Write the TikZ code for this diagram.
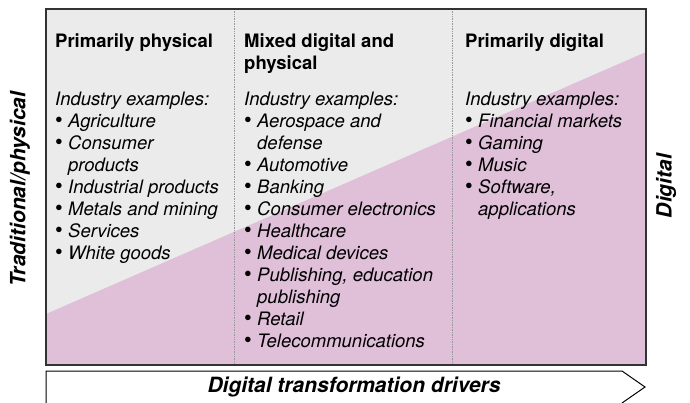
\documentclass[tikz,border=0pt]{standalone}
\usepackage{fontspec}
\setmainfont{TeX Gyre Heros}
\definecolor{physgray}{HTML}{EBEBEB}
\definecolor{digipink}{HTML}{E0BFD8}
\definecolor{framegray}{HTML}{333333}
\definecolor{dividergray}{HTML}{999999}

\begin{document}
\begin{tikzpicture}[x=1pt, y=-1pt,
  head/.style={anchor=base west, inner sep=0pt, font=\fontsize{18.5}{22}\selectfont\bfseries},
  example/.style={anchor=base west, inner sep=0pt, font=\fontsize{18.5}{22}\selectfont\itshape},
  axislabel/.style={inner sep=0pt, font=\fontsize{21}{25}\selectfont\bfseries\itshape}]

\newcommand{\boxleft}{46}
\newcommand{\boxright}{646}
\newcommand{\boxtop}{9}
\newcommand{\boxbottom}{365}
\newcommand{\divone}{234.5}
\newcommand{\divtwo}{452}
\newcommand{\physx}{55}
\newcommand{\mixx}{244}
\newcommand{\digix}{465}
\newcommand{\headtop}{47}
\newcommand{\listtop}{105}
\newcommand{\linestep}{22}
\newcommand{\bul}{\makebox[13pt][l]{\upshape\fontsize{22}{22}\selectfont\textbullet}}
\newcommand{\ind}{\hspace*{13pt}}

\useasboundingbox (0,0) rectangle (690,402);

\coordinate (bTL) at (\boxleft,\boxtop);
\coordinate (bBR) at (\boxright,\boxbottom);

% background and digital share
\fill[physgray] (bTL) rectangle (bBR);
\fill[digipink] (\boxleft,314) -- (\boxright,52) -- (bBR) -- (\boxleft,\boxbottom) -- cycle;

% column dividers
\draw[dividergray, densely dotted, line width=0.7pt] (\divone,\boxtop) -- (\divone,\boxbottom);
\draw[dividergray, densely dotted, line width=0.7pt] (\divtwo,\boxtop) -- (\divtwo,\boxbottom);
\draw[framegray, line width=1.3pt] (bTL) rectangle (bBR);

% primarily physical
\node[head] (physhead) at (\physx,\headtop) {Primarily physical};
\foreach \txt [count=\i from 0] in {Industry examples:, \bul Agriculture, \bul Consumer,
    \ind products, \bul Industrial products, \bul Metals and mining, \bul Services,
    \bul White goods}
  \node[example] (phys-\i) at (\physx,{\listtop+\i*\linestep}) {\txt};

% mixed digital and physical
\node[head] (mixhead) at (\mixx,\headtop) {Mixed digital and};
\node[head] (mixhead2) at (\mixx,\headtop+\linestep) {physical};
\foreach \txt [count=\i from 0] in {Industry examples:, \bul Aerospace and, \ind defense,
    \bul Automotive, \bul Banking, \bul Consumer electronics, \bul Healthcare,
    \bul Medical devices, {\bul Publishing, education}, \ind publishing, \bul Retail,
    \bul Telecommunications}
  \node[example] (mix-\i) at (\mixx,{\listtop+\i*\linestep}) {\txt};

% primarily digital
\node[head] (digihead) at (\digix,\headtop) {Primarily digital};
\foreach \txt [count=\i from 0] in {Industry examples:, \bul Financial markets, \bul Gaming,
    \bul Music, {\bul Software,}, \ind applications}
  \node[example] (digi-\i) at (\digix,{\listtop+\i*\linestep}) {\txt};

% axis labels
\node[axislabel, rotate=90] (tradlabel) at (20,189) {Traditional/physical};
\node[axislabel, rotate=90] (digilabel) at (666,186) {Digital};

% drivers arrow
\draw[line width=1pt] (\boxleft,403) -- (\boxleft,371) -- (622,371) -- (645,387) -- (622,403);
\node[axislabel] (drivers) at (354,387) {Digital transformation drivers};

\end{tikzpicture}
\end{document}
